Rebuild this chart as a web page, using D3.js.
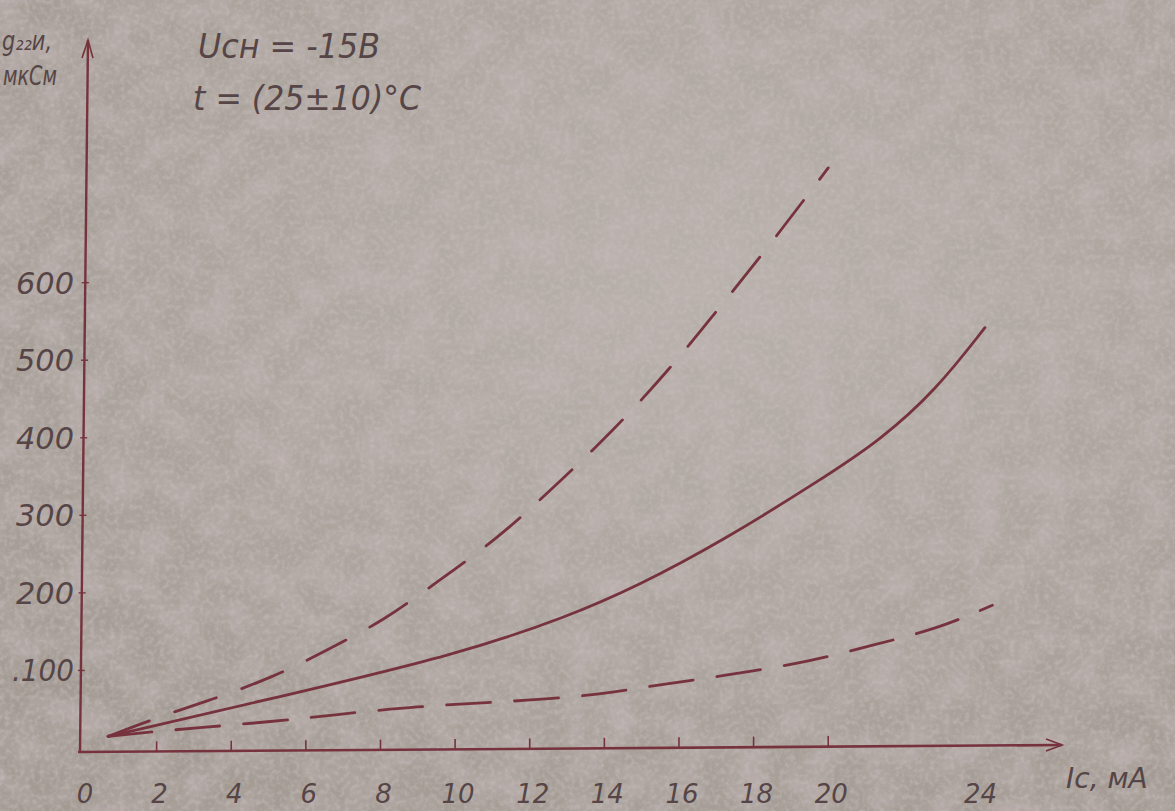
<!DOCTYPE html>
<html>
<head>
<meta charset="utf-8">
<script src="https://cdn.jsdelivr.net/npm/d3@7"></script>
<style>
  html, body { margin: 0; padding: 0; background: #aca49f; }
  #chart { width: 1175px; height: 811px; overflow: hidden; }
  text { font-family: 'DejaVu Sans', sans-serif; font-style: italic; fill: #564546; }
</style>
</head>
<body>
<div id="chart"></div>
<script>
// Ic, mA ticks and y ticks (mkS)
const xTicks = [0, 2, 4, 6, 8, 10, 12, 14, 16, 18, 20, 24];
const xTickLabels = ['0', '2', '4', '6', '8', '10', '12', '14', '16', '18', '20', '24'];
const yTicks = [100, 200, 300, 400, 500, 600];
const yTickLabels = ['.100', '200', '300', '400', '500', '600'];

// typical curve
const typX = [0.7, 5.3, 10.1, 13.0, 14.9, 17.2, 19.8, 21.4, 22.9, 24.2];
const typY = [15, 66, 121, 169, 209, 268, 346, 397, 462, 542];

// upper limit (dashed)
const maxX = [0.7, 2.0, 3.2, 5.1, 6.8, 8.1, 9.4, 11.2, 12.7, 14.2, 15.8, 17.1, 18.3, 20.0];
const maxY = [15, 39, 58, 90, 132, 165, 210, 272, 339, 407, 491, 569, 640, 748];

// lower limit (dashed)
const minX = [0.7, 1.9, 3.1, 5.1, 6.8, 8.8, 10.7, 13.5, 15.1, 17.2, 19.6, 21.2, 22.9, 24.4];
const minY = [15, 21, 26, 34, 43, 53, 58, 66, 79, 93, 112, 133, 153, 184];

const W = 1175, H = 811;
const ink = '#76333e';

const svg = d3.select('#chart').append('svg')
  .attr('width', W)
  .attr('height', H);

// paper texture: light base, soft mauve blotches, fine grain
const defs = svg.append('defs');
const shade = defs.append('radialGradient').attr('id', 'shade').attr('cx', '60%').attr('cy', '35%').attr('r', '75%');
shade.append('stop').attr('offset', '0%').attr('stop-color', '#b8b1ab');
shade.append('stop').attr('offset', '100%').attr('stop-color', '#a39b93');

const blot = defs.append('filter').attr('id', 'blot').attr('x', 0).attr('y', 0).attr('width', '100%').attr('height', '100%');
blot.append('feTurbulence').attr('type', 'fractalNoise').attr('baseFrequency', 0.03).attr('numOctaves', 4).attr('seed', 11);
blot.append('feColorMatrix').attr('type', 'matrix')
  .attr('values', '0 0 0 0 0.54  0 0 0 0 0.46  0 0 0 0 0.47  1.2 0 0 0 -0.42');
const grain = defs.append('filter').attr('id', 'grain').attr('x', 0).attr('y', 0).attr('width', '100%').attr('height', '100%');
grain.append('feTurbulence').attr('type', 'fractalNoise').attr('baseFrequency', 0.2).attr('numOctaves', 2).attr('seed', 5);
grain.append('feColorMatrix').attr('type', 'matrix')
  .attr('values', '0 0 0 0 0.58  0 0 0 0 0.52  0 0 0 0 0.52  1.2 0 0 0 -0.5');

svg.append('rect').attr('width', W).attr('height', H).attr('fill', 'url(#shade)');
svg.append('rect').attr('width', W).attr('height', H).attr('filter', 'url(#blot)');
svg.append('rect').attr('width', W).attr('height', H).attr('filter', 'url(#grain)');

const x = d3.scaleLinear().domain([0, 26.4]).range([82, 1067]);
const y = d3.scaleLinear().domain([0, 900]).range([748, 50]);

// axes
svg.append('line')
  .attr('x1', x(0) - 4).attr('x2', 1062)
  .attr('y1', y(0) + 4).attr('y2', y(0) - 3)
  .attr('stroke', ink).attr('stroke-width', 2.6);
svg.append('path')
  .attr('d', `M1046,${y(0) - 9} L1062,${y(0) - 3} L1046,${y(0) + 3}`)
  .attr('fill', 'none').attr('stroke', ink).attr('stroke-width', 1.8);

svg.append('line')
  .attr('x1', x(0) - 2).attr('x2', x(0) + 6)
  .attr('y1', y(0) + 4).attr('y2', 40)
  .attr('stroke', ink).attr('stroke-width', 2.4);
svg.append('path')
  .attr('d', `M${x(0)},58 L${x(0) + 6},40 L${x(0) + 11},58`)
  .attr('fill', 'none').attr('stroke', ink).attr('stroke-width', 1.6);

// x ticks
svg.selectAll('.xtick')
  .data(xTicks.filter(d => d > 0 && d <= 20)).enter().append('line')
  .attr('x1', d => x(d)).attr('x2', d => x(d))
  .attr('y1', d => y(0) + 4 - d * 0.3).attr('y2', d => y(0) - 6 - d * 0.3)
  .attr('stroke', ink).attr('stroke-width', 1.6);

svg.selectAll('.xlab')
  .data(xTicks).enter().append('text')
  .attr('x', d => x(d) + 3)
  .attr('y', 803)
  .attr('text-anchor', 'middle')
  .style('font-size', '26px')
  .text((d, i) => xTickLabels[i]);

// y ticks
svg.selectAll('.ytick')
  .data(yTicks).enter().append('line')
  .attr('x1', d => x(0) - 5 + d * 0.008).attr('x2', d => x(0) + 2 + d * 0.008)
  .attr('y1', d => y(d)).attr('y2', d => y(d))
  .attr('stroke', ink).attr('stroke-width', 1.4);

svg.selectAll('.ylab')
  .data(yTicks).enter().append('text')
  .attr('x', 74)
  .attr('y', d => y(d) + 11)
  .attr('text-anchor', 'end')
  .attr('textLength', (d, i) => yTickLabels[i].length > 3 ? 62 : 58)
  .attr('lengthAdjust', 'spacingAndGlyphs')
  .style('font-size', '30px')
  .text((d, i) => yTickLabels[i]);

// axis titles
svg.append('text').attr('x', 1066).attr('y', 788)
  .style('font-size', '28px').text('Iс, мА');
svg.append('text').attr('x', 2).attr('y', 50)
  .attr('textLength', 50).attr('lengthAdjust', 'spacingAndGlyphs')
  .style('font-size', '26px').text('g₂₂и,');
svg.append('text').attr('x', 3).attr('y', 85)
  .attr('textLength', 54).attr('lengthAdjust', 'spacingAndGlyphs')
  .style('font-size', '26px').text('мкСм');

// conditions
svg.append('text').attr('x', 198).attr('y', 58)
  .attr('textLength', 182).attr('lengthAdjust', 'spacingAndGlyphs')
  .style('font-size', '34px').text('Uсн = -15В');
svg.append('text').attr('x', 193).attr('y', 110)
  .attr('textLength', 228).attr('lengthAdjust', 'spacingAndGlyphs')
  .style('font-size', '34px').text('t = (25±10)°C');

// curves, smoothed through the read-off points
const line = d3.line()
  .x(d => x(d[0]))
  .y(d => y(d[1]))
  .curve(d3.curveBasis);

const curves = [
  { pts: d3.zip(typX, typY), dash: null },
  { pts: d3.zip(maxX, maxY), dash: '44 27' },
  { pts: d3.zip(minX, minY), dash: '44 24' }
];

svg.selectAll('.curve')
  .data(curves).enter().append('path')
  .attr('d', d => line(d.pts))
  .attr('fill', 'none')
  .attr('stroke', ink)
  .attr('stroke-width', 2.8)
  .attr('stroke-linecap', 'round')
  .attr('stroke-dasharray', d => d.dash);
</script>
</body>
</html>
